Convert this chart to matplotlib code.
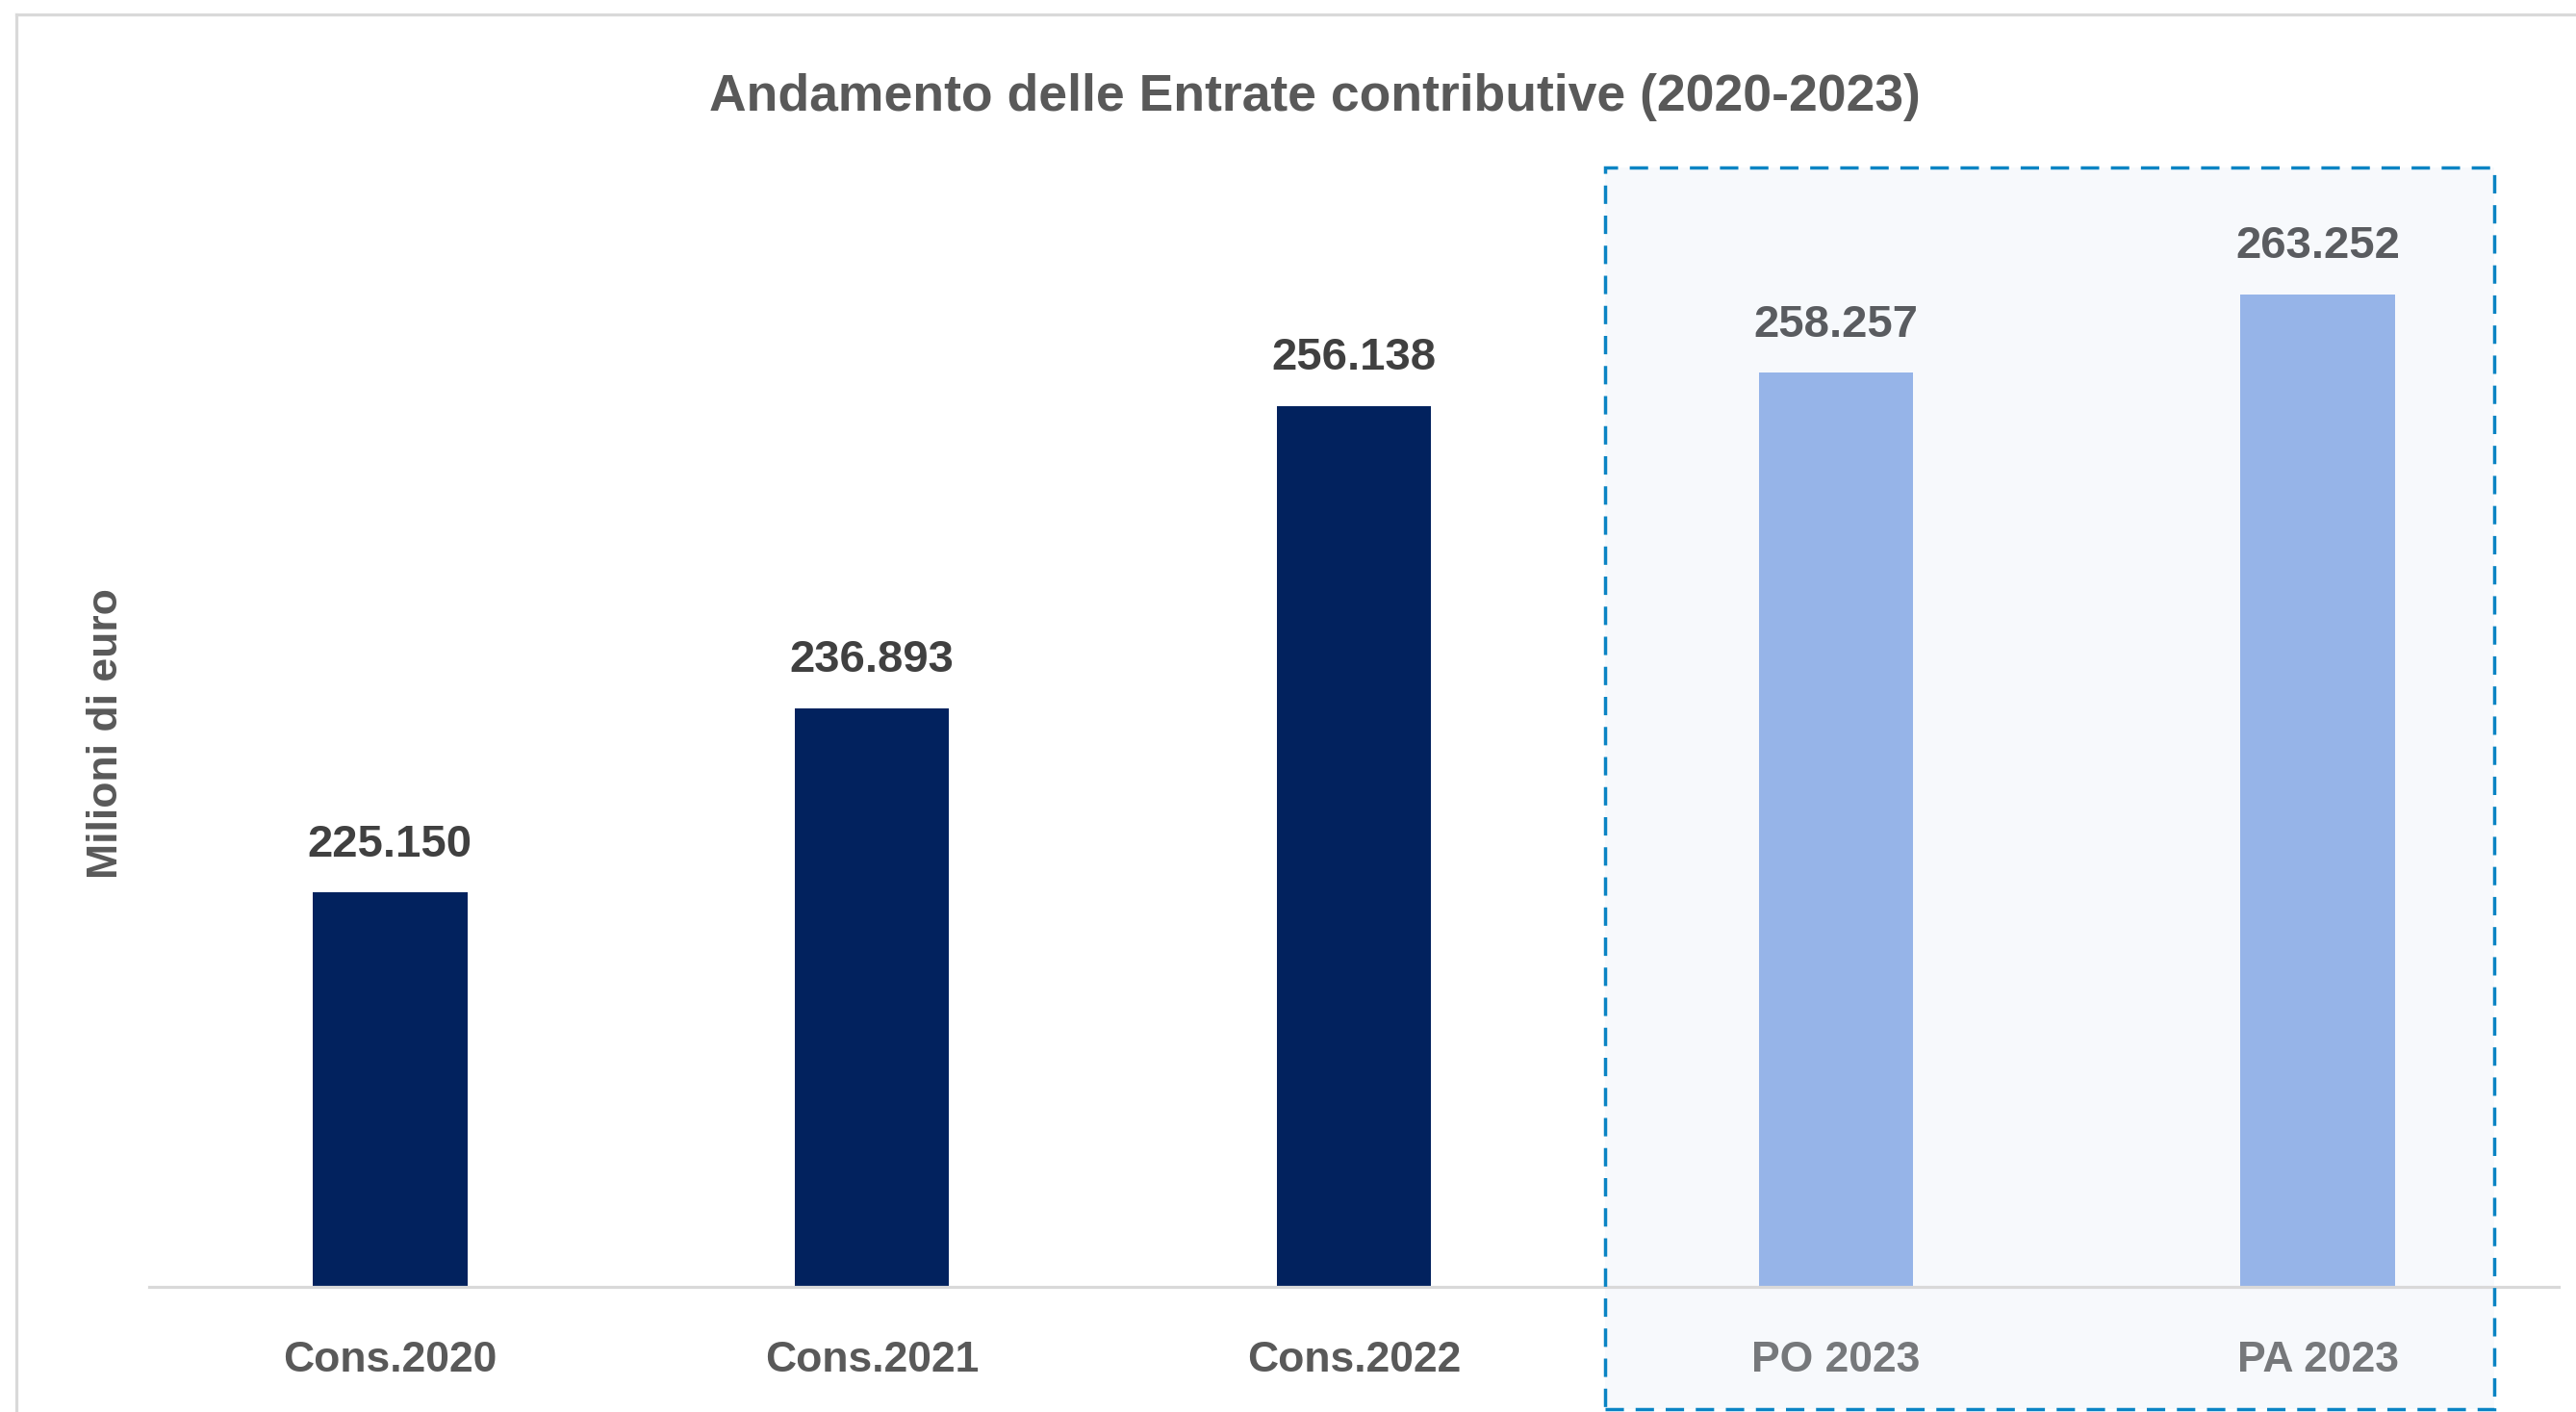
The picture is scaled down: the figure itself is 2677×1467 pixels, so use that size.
import matplotlib
matplotlib.use('Agg')
import matplotlib.pyplot as plt
from matplotlib.patches import Rectangle
from matplotlib.lines import Line2D

# Entrate contributive, milioni di euro
categories = ['Cons.2020', 'Cons.2021', 'Cons.2022', 'PO 2023', 'PA 2023']
values = [225150, 236893, 256138, 258257, 263252]
value_labels = ['225.150', '236.893', '256.138', '258.257', '263.252']
is_forecast = [False, False, False, True, True]

dark_bar = '#02225E'
light_bar = '#96B4E8'
plt.rcParams['font.family'] = ['Liberation Sans', 'DejaVu Sans']

W, H = 2677, 1467
fig = plt.figure(figsize=(W / 100, H / 100), dpi=100)
ax = fig.add_axes([155 / W, 1 - 1337 / H, (2659 - 155) / W, (1337 - 196) / H])
ax.set_zorder(1)
ax.patch.set_alpha(0)

x = range(len(categories))
colors = [light_bar if f else dark_bar for f in is_forecast]
ax.bar(x, values, width=0.32, color=colors, zorder=2)
ax.set_xlim(-0.5, len(categories) - 0.5)
ax.set_ylim(200000, 270000)

for xi, v, lab, f in zip(x, values, value_labels, is_forecast):
    ax.annotate(lab, (xi, v), xytext=(0, 27), textcoords='offset points',
                ha='center', va='baseline', fontsize=34, fontweight='bold',
                color='#5A5C60' if f else '#404040')

ax.set_xticks(list(x))
ax.set_xticklabels(categories, fontsize=32, fontweight='bold')
for tl, f in zip(ax.get_xticklabels(), is_forecast):
    tl.set_color('#76787B' if f else '#595959')
ax.tick_params(axis='x', length=0, pad=40)
ax.set_yticks([])
for s in ['top', 'right', 'left']:
    ax.spines[s].set_visible(False)
ax.spines['bottom'].set_color('#D9D9D9')
ax.spines['bottom'].set_linewidth(2.3)

# forecast area: light fill behind, dashed border on top
bx0, by0, bx1, by1 = 1668 / W, 1 - 1464 / H, 2592 / W, 1 - 174 / H
fig.add_artist(Rectangle((bx0, by0), bx1 - bx0, by1 - by0, transform=fig.transFigure,
                         facecolor='#F7F9FC', edgecolor='none', zorder=0))
fig.add_artist(Rectangle((bx0, by0), bx1 - bx0, by1 - by0, transform=fig.transFigure,
                         facecolor='none', edgecolor='#0A84C4', linewidth=2.5,
                         linestyle=(0, (5.5, 3.5)), zorder=2))

# chart frame (only top and left visible)
fx, fy = 17 / W, 1 - 15 / H
fig.add_artist(Line2D([fx, fx], [0, fy], transform=fig.transFigure, color='#D9D9D9', lw=2.3))
fig.add_artist(Line2D([fx, 1], [fy, fy], transform=fig.transFigure, color='#D9D9D9', lw=2.3))

fig.text(1366 / W, 1 - 115 / H, 'Andamento delle Entrate contributive (2020-2023)',
         ha='center', va='baseline', fontsize=38.5, fontweight='bold', color='#595959')
fig.text(111 / W, 1 - 762 / H, 'Milioni di euro', rotation=90, ha='center', va='center',
         fontsize=32, fontweight='bold', color='#595959')

fig.savefig('out.png', dpi=100, facecolor='white')
